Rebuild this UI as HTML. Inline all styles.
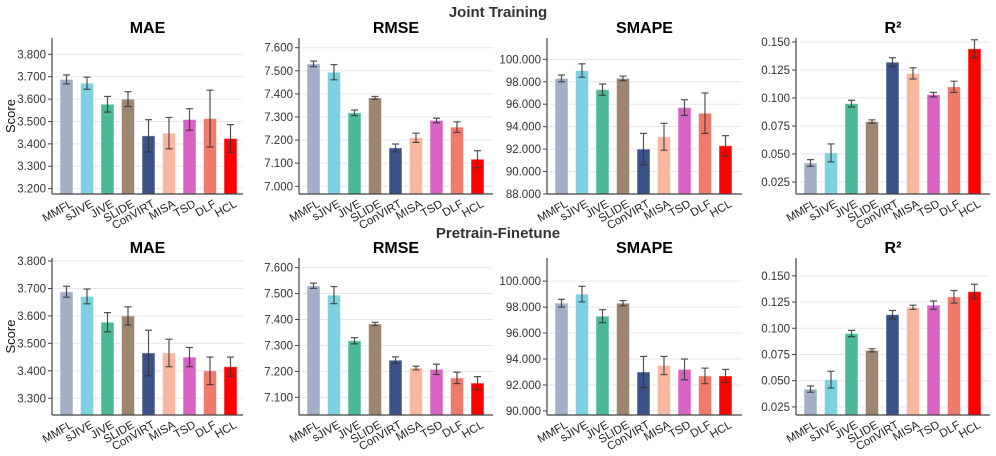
<!DOCTYPE html>
<html><head><meta charset="utf-8"><style>
html,body{margin:0;padding:0;background:#fff;}
svg{display:block;font-family:"Liberation Sans",Arial,sans-serif;}
</style></head><body>
<svg id="s" width="996" height="456" xmlns="http://www.w3.org/2000/svg"></svg>
<script>
const C=["#a3aec9","#7dd1e0","#4cb898","#9e8570","#3b5289","#f7b89f","#d763c2","#ee7a6c","#ff0000"];
const N=["MMFL","sJIVE","JIVE","SLIDE","ConVIRT","MISA","TSD","DLF","HCL"];
const P=[
 {x0:52,x1:243,top:38,bot:194,vmin:3.176,vmax:3.873,ticks:[3.2,3.3,3.4,3.5,3.6,3.7,3.8],t:"MAE",
  v:[3.688,3.671,3.577,3.600,3.436,3.448,3.509,3.513,3.424],e:[.02,.027,.035,.033,.072,.07,.048,.127,.062]},
 {x0:299,x1:493,top:38,bot:194,vmin:6.9665,vmax:7.642,ticks:[7.0,7.1,7.2,7.3,7.4,7.5,7.6],t:"RMSE",
  v:[7.530,7.494,7.318,7.383,7.166,7.210,7.285,7.256,7.117],e:[.012,.033,.012,.006,.017,.02,.01,.023,.037]},
 {x0:547,x1:742,top:38,bot:194,vmin:88,vmax:101.9,ticks:[88,90,92,94,96,98,100],t:"SMAPE",
  v:[98.3,99.0,97.3,98.3,92.0,93.1,95.7,95.2,92.3],e:[.3,.6,.5,.2,1.4,1.2,.7,1.8,.9]},
 {x0:796,x1:990,top:38,bot:194,vmin:0.0143,vmax:0.1536,ticks:[.025,.05,.075,.1,.125,.15],t:"R²",
  v:[.042,.051,.095,.079,.132,.122,.103,.110,.144],e:[.003,.008,.003,.0015,.004,.005,.002,.005,.008]},
 {x0:52,x1:243,top:258,bot:415,vmin:3.239,vmax:3.811,ticks:[3.3,3.4,3.5,3.6,3.7,3.8],t:"MAE",
  v:[3.688,3.671,3.577,3.600,3.465,3.465,3.450,3.400,3.415],e:[.02,.027,.035,.033,.083,.05,.035,.05,.035]},
 {x0:299,x1:493,top:258,bot:415,vmin:7.032,vmax:7.637,ticks:[7.1,7.2,7.3,7.4,7.5,7.6],t:"RMSE",
  v:[7.530,7.494,7.318,7.383,7.243,7.213,7.208,7.175,7.155],e:[.01,.033,.012,.006,.013,.007,.02,.022,.025]},
 {x0:547,x1:742,top:258,bot:415,vmin:89.69,vmax:101.78,ticks:[90,92,94,96,98,100],t:"SMAPE",
  v:[98.3,99.0,97.3,98.3,93.0,93.5,93.2,92.7,92.7],e:[.3,.6,.5,.2,1.2,.7,.8,.6,.5]},
 {x0:796,x1:990,top:258,bot:415,vmin:0.0173,vmax:0.167,ticks:[.025,.05,.075,.1,.125,.15],t:"R²",
  v:[.042,.051,.095,.079,.113,.120,.122,.130,.135],e:[.003,.008,.003,.0015,.004,.002,.004,.006,.007]}
];
let h='';
h+='<text x="498" y="17" text-anchor="middle" font-size="15" font-weight="bold" fill="#333">Joint Training</text>';
h+='<text x="498" y="238" text-anchor="middle" font-size="15" font-weight="bold" fill="#333">Pretrain-Finetune</text>';
P.forEach((p,pi)=>{
 const Y=v=>p.bot-(v-p.vmin)/(p.vmax-p.vmin)*(p.bot-p.top);
 p.ticks.forEach(t=>{const y=Y(t);
  h+=`<line x1="${p.x0}" x2="${p.x1}" y1="${y}" y2="${y}" stroke="#e6e6ef" stroke-width="1"/>`;
  h+=`<line x1="${p.x0-4}" x2="${p.x0}" y1="${y}" y2="${y}" stroke="#444"/>`;
  h+=`<text x="${p.x0-6}" y="${y+4}" text-anchor="end" font-size="11.5" fill="#333">${t.toFixed(3)}</text>`;});
 h+=`<text x="${(p.x0+p.x1)/2}" y="${p.top-5}" text-anchor="middle" font-size="16" font-weight="bold" fill="#000">${p.t}</text>`;
 p.v.forEach((v,i)=>{const cx=p.x0+14.5+i*20.5;const y=Y(v);
  h+=`<rect x="${cx-6.5}" y="${y}" width="13" height="${p.bot-y}" fill="${C[i]}" stroke="#fff" stroke-opacity="0.5" stroke-width="1"/>`;
  const y1=Y(v+p.e[i]),y2=Y(v-p.e[i]);
  h+=`<g stroke="#333" stroke-width="1.2" opacity="0.85"><line x1="${cx}" x2="${cx}" y1="${y1}" y2="${y2}"/><line x1="${cx-3.5}" x2="${cx+3.5}" y1="${y1}" y2="${y1}"/><line x1="${cx-3.5}" x2="${cx+3.5}" y1="${y2}" y2="${y2}"/></g>`;
  h+=`<text transform="translate(${cx+7},${p.bot+12}) rotate(-30)" text-anchor="end" font-size="11.5" fill="#222">${N[i]}</text>`;});
 h+=`<line x1="${p.x0}" x2="${p.x0}" y1="${p.top}" y2="${p.bot}" stroke="#444" stroke-width="1.2"/>`;
 h+=`<line x1="${p.x0}" x2="${p.x1}" y1="${p.bot}" y2="${p.bot}" stroke="#444" stroke-width="1.2"/>`;
 if(p.x0==52) h+=`<text transform="translate(15,${(p.top+p.bot)/2}) rotate(-90)" text-anchor="middle" font-size="13" fill="#111">Score</text>`;
});
document.getElementById('s').innerHTML=h;
</script>
</body></html>
